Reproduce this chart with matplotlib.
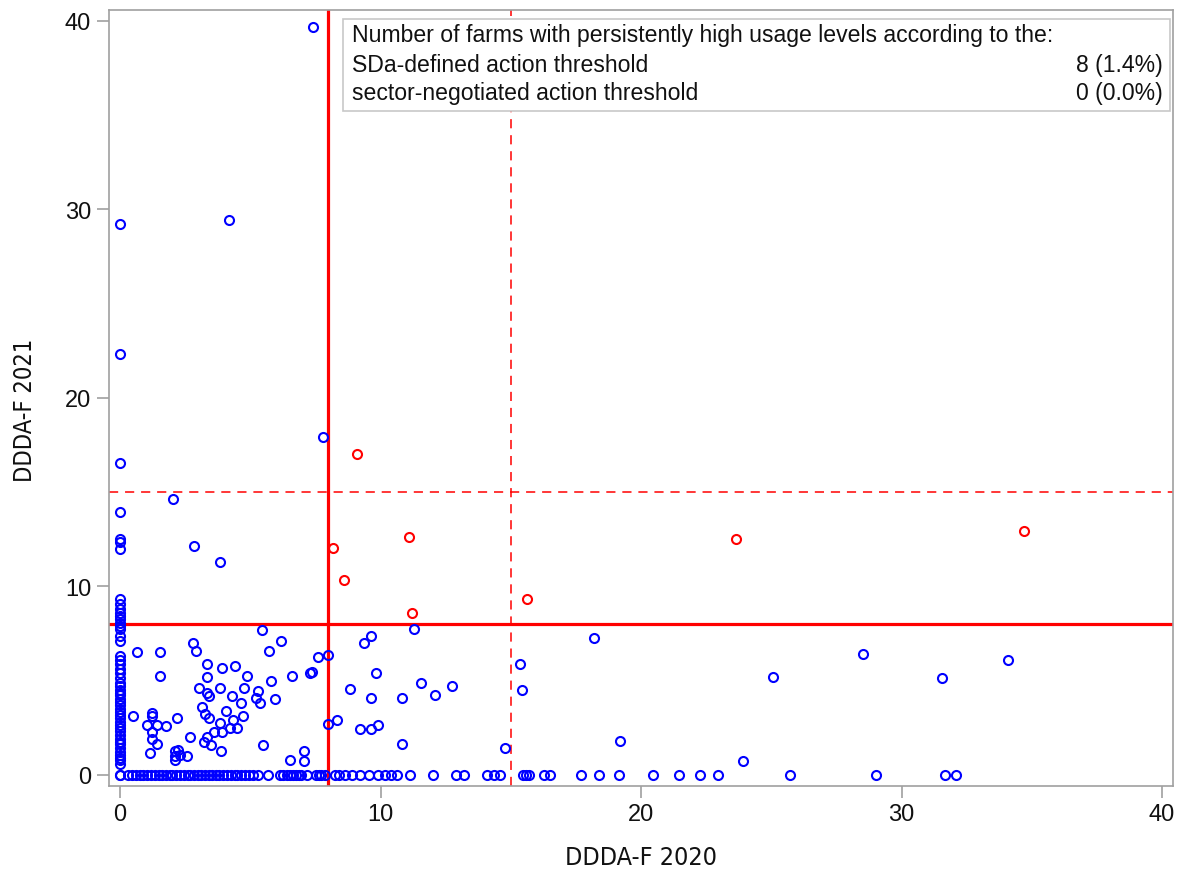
import matplotlib.pyplot as plt
from matplotlib.patches import Rectangle

# farms with DDDA-F 2020 = 0 (their 2021 values)
zero_2020_y = [29.2, 22.3, 16.5, 13.9, 12.5, 12.35, 11.95,
               9.29, 9.03, 8.76, 8.58, 8.41, 8.23, 8.05, 7.88, 7.7, 7.35, 7.08,
               6.28, 6.07, 5.84, 5.58, 5.4, 5.13, 4.87, 4.7, 4.5, 4.35, 4.2,
               4.0, 3.85, 3.7, 3.5, 3.3, 3.15, 3.0, 2.8, 2.6, 2.45, 2.3, 2.1,
               1.9, 1.75, 1.6, 1.4, 1.2, 1.05, 0.9, 0.75, 0.55, 0.0]

# farms with DDDA-F 2021 = 0 (their 2020 values)
zero_2021_x = [0.0, 0.3, 0.45, 0.6, 0.75, 0.9, 1.05, 1.2, 1.35, 1.5, 1.6, 1.75,
               1.9, 2.0, 2.15, 2.3, 2.45, 2.6, 2.7, 2.85, 3.0, 3.1, 3.25, 3.4,
               3.55, 3.7, 3.8, 3.95, 4.1, 4.25, 4.4, 4.5, 4.65, 4.8, 4.95, 5.1,
               5.3, 5.68, 6.13, 6.25, 6.4, 6.51, 6.64, 6.75, 6.86, 6.96, 7.19,
               7.52, 7.62, 7.73, 7.86, 8.24, 8.4, 8.63, 8.9, 9.23, 9.55, 9.91,
               10.19, 10.4, 10.64, 11.13, 12.03, 12.88, 13.2, 14.1, 14.35, 14.6,
               15.45, 15.6, 15.7, 16.28, 16.5, 17.7, 18.4, 19.15, 20.46, 21.45,
               22.25, 22.95, 25.7, 29.0, 31.65, 32.1]

# remaining farms
ddda_2020 = [7.39, 4.2, 7.81, 2.04, 2.83, 3.85,
             5.44, 6.17, 5.73, 2.82, 2.9, 0.64, 1.54, 1.54, 7.61, 7.97, 3.33,
             3.93, 4.41, 4.86, 3.33, 6.59, 7.29, 7.36, 5.8, 3.03, 3.84, 4.77,
             3.33, 3.43, 4.29, 5.31, 5.21, 5.37, 5.95, 4.66, 3.13, 4.07, 3.26,
             3.42, 4.73, 4.35, 0.51, 1.24, 1.24, 2.18, 1.02, 1.41, 1.75, 1.22,
             1.22, 1.41, 1.15, 3.84, 3.9, 3.61, 4.22, 4.48, 3.33, 3.22, 3.49,
             2.69, 3.86, 2.11, 2.24, 2.3, 2.11, 2.11, 2.56, 5.5, 6.53, 7.06,
             7.06, 7.97, 8.34, 8.83,
             11.28, 9.62, 9.38, 18.18, 15.35, 15.42, 9.83, 9.62, 10.83, 11.56,
             12.08, 12.76, 9.23, 9.62, 9.91, 10.83, 14.77, 19.2,
             25.08, 28.53, 31.55, 34.09, 23.93,
             8.19, 8.6, 9.1, 11.1, 11.22, 15.64, 23.65, 34.7]
ddda_2021 = [39.67, 29.4, 17.9, 14.6, 12.1, 11.27,
             7.65, 7.06, 6.57, 7.0, 6.53, 6.48, 6.48, 5.25, 6.25, 6.36, 5.87,
             5.67, 5.76, 5.25, 5.17, 5.25, 5.38, 5.46, 4.96, 4.59, 4.59, 4.59,
             4.33, 4.15, 4.19, 4.41, 4.08, 3.77, 3.99, 3.77, 3.59, 3.38, 3.19,
             2.98, 3.1, 2.89, 3.1, 3.24, 3.1, 3.01, 2.63, 2.63, 2.57, 2.28,
             1.89, 1.61, 1.14, 2.71, 2.28, 2.28, 2.49, 2.49, 2.01, 1.72, 1.58,
             1.98, 1.23, 1.23, 1.31, 1.05, 0.96, 0.79, 1.0, 1.58, 0.79, 1.23,
             0.7, 2.68, 2.89, 4.55,
             7.74, 7.36, 6.97, 7.25, 5.87, 4.47, 5.38, 4.08, 4.08, 4.87,
             4.2, 4.69, 2.4, 2.4, 2.61, 1.61, 1.4, 1.8,
             5.19, 6.38, 5.1, 6.1, 0.7,
             12.0, 10.3, 17.0, 12.6, 8.55, 9.33, 12.5, 12.9]

sda_threshold = 8
sector_threshold = 15
summary_rows = [("SDa-defined action threshold", "8 (1.4%)"),
                ("sector-negotiated action threshold", "0 (0.0%)")]

x_all = [0.0] * len(zero_2020_y) + zero_2021_x + ddda_2020
y_all = zero_2020_y + [0.0] * len(zero_2021_x) + ddda_2021
high = [(x > sda_threshold and y > sda_threshold) for x, y in zip(x_all, y_all)]

plt.rcParams['font.family'] = ['Liberation Sans']

fig = plt.figure(figsize=(11.85, 8.7), dpi=100)
ax = fig.add_axes([0.0916, 0.0954, 0.8983, 0.892])

ax.axvline(sda_threshold, color='#ff0000', lw=2.3, zorder=2)
ax.axhline(sda_threshold, color='#ff0000', lw=2.3, zorder=2)
ax.axvline(sector_threshold, color='#ff0000', lw=1.1, dashes=(6, 4.5), zorder=2)
ax.axhline(sector_threshold, color='#ff0000', lw=1.1, dashes=(6, 4.5), zorder=2)

bx = [x for x, h in zip(x_all, high) if not h]
by = [y for y, h in zip(y_all, high) if not h]
rx = [x for x, h in zip(x_all, high) if h]
ry = [y for y, h in zip(y_all, high) if h]
ax.plot(bx, by, 'o', ms=6.5, mfc='none', mec='#0000ff', mew=1.5, zorder=3)
ax.plot(rx, ry, 'o', ms=6.5, mfc='none', mec='#ff0000', mew=1.5, zorder=3)

ax.set_xlim(-0.44, 40.42)
ax.set_ylim(-0.61, 40.56)
ax.set_xticks([0, 10, 20, 30, 40])
ax.set_yticks([0, 10, 20, 30, 40])
for s in ax.spines.values():
    s.set_color('#a0a0a0')
    s.set_linewidth(1.2)
ax.tick_params(colors='#a0a0a0', labelcolor='#111111', length=8.5, width=1.2,
               labelsize=17, pad=4)

ax.set_xlabel('DDDA-F 2020', fontsize=18, family='DejaVu Sans', stretch='condensed',
              color='#111111')
ax.set_ylabel('DDDA-F 2021', fontsize=17, family='DejaVu Sans', stretch='condensed',
              color='#111111')
ax.xaxis.set_label_coords(0.5, -0.076)
ax.yaxis.set_label_coords(-0.067, 0.486)

ax.add_patch(Rectangle((0.2203, 0.8698), 0.7769, 0.1186, transform=ax.transAxes,
                       facecolor='white', edgecolor='#c8c8c8', lw=1.2, zorder=4))
ax.text(0.2288, 0.9601, 'Number of farms with persistently high usage levels according to the:',
        transform=ax.transAxes, va='baseline', ha='left', fontsize=16.6,
        color='#111111', zorder=5)
for (label, value), yy in zip(summary_rows, [0.9214, 0.8847]):
    ax.text(0.2288, yy, label, transform=ax.transAxes, va='baseline', ha='left',
            fontsize=16.6, color='#111111', zorder=5)
    ax.text(0.9906, yy, value, transform=ax.transAxes, va='baseline', ha='right',
            fontsize=16.6, color='#111111', zorder=5)

fig.savefig('out.png', dpi=100)
